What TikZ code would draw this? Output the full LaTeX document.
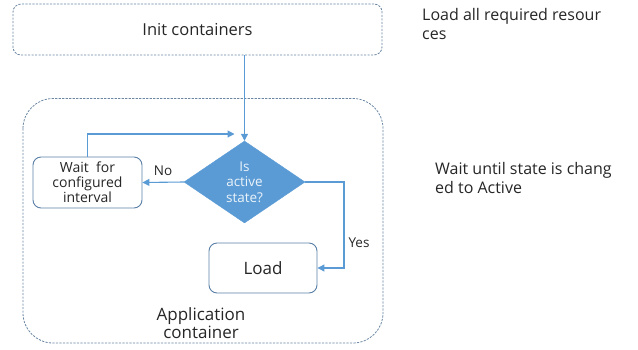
\documentclass[tikz,border=0pt]{standalone}
\usepackage{fontspec}
\setmainfont{Open Sans}
\usetikzlibrary{shapes.geometric,arrows.meta}
\definecolor{boxline}{HTML}{5A7FA6}
\definecolor{dashline}{HTML}{6A86A3}
\definecolor{flow}{HTML}{5B9BD5}
\definecolor{txt}{HTML}{262626}
\tikzset{
  dashbox/.style={draw=dashline, line width=0.8pt, dash pattern=on 2.2pt off 1.3pt},
  procbox/.style={draw=boxline, line width=0.9pt, rounded corners=8pt, fill=white, align=center, text=txt},
  flowline/.style={draw=flow, line width=1.1pt, -{Triangle[length=7pt,width=7pt]}},
  lbl/.style={text=txt, font=\fontsize{13.5}{16}\selectfont},
}
\begin{document}
\begin{tikzpicture}[x=1pt,y=-1pt]
\useasboundingbox (0,0) rectangle (638,349);
% outer containers
\node[dashbox, rounded corners=8pt, minimum width=369pt, minimum height=51pt, text=txt,
      font=\fontsize{16.5}{19}\selectfont] (init) at (197.5,29.5) {Init containers};
\draw[dashbox, rounded corners=30pt] (23,98.5) rectangle (383,343);
\node[text=txt, align=center, font=\fontsize{17}{18.5}\selectfont] (app) at (201,323) {Application\\container};
% side notes
\node[text=txt, anchor=north west, align=left, font=\fontsize{16}{19}\selectfont, inner sep=0pt] (note1) at (422,8) {Load all required resour\\ces};
\node[text=txt, anchor=north west, align=left, font=\fontsize{16}{19}\selectfont, inner sep=0pt] (note2) at (435,162) {Wait until state is chang\\ed to Active};
% decision and processes
\node[diamond, fill=flow, draw=flow, minimum width=121pt, minimum height=82pt, inner sep=0pt,
      text=white!88!flow, align=center, font=\fontsize{13.5}{15.5}\selectfont] (dec) at (244.5,182) {Is\\active\\state?};
\node[procbox, minimum width=109pt, minimum height=51pt, inner sep=1pt,
      font=\fontsize{14}{15}\selectfont] (wait) at (87.5,182.5) {Wait~ for\\configured\\interval};
\node[procbox, minimum width=108pt, minimum height=50pt,
      font=\fontsize{17}{19}\selectfont] (load) at (263,268) {Load};
% connectors
\coordinate (top) at (dec.north |- 0,134);
\draw[flowline] (init.south -| dec.north) -- (dec.north);
\draw[flowline] (wait.north) |- ([xshift=-10pt]top);
\draw[flowline] (dec.west) -- (wait.east) node[lbl, midway, above=3pt] {No};
\draw[flowline] (dec.east) -| (344,268) -- (load.east);
\node[lbl] (yes) at (359,243) {Yes};
\end{tikzpicture}
\end{document}
